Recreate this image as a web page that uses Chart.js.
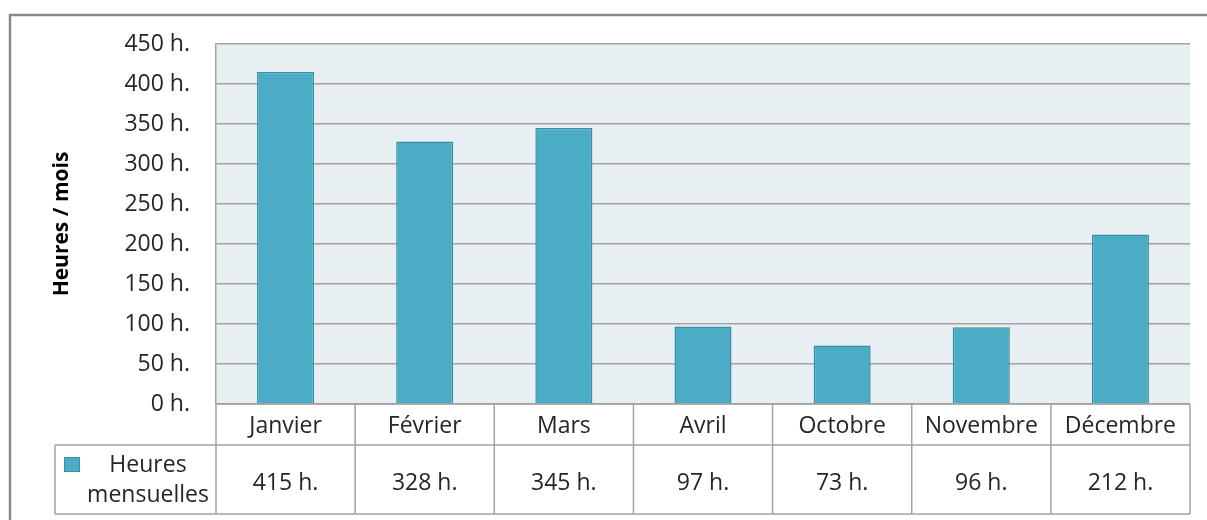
<!DOCTYPE html>
<html>
<head>
<meta charset="utf-8">
<script src="https://cdn.jsdelivr.net/npm/chart.js@4/dist/chart.umd.min.js"></script>
<style>
  html, body { margin: 0; padding: 0; background: #fff; }
  #wrap { width: 1207px; height: 520px; position: relative; }
</style>
</head>
<body>
<div id="wrap"><canvas id="heuresChart"></canvas></div>
<script>
// --- DONNEES ---
const mois = ["Janvier", "Février", "Mars", "Avril", "Octobre", "Novembre", "Décembre"];
const heuresMensuelles = [415, 328, 345, 97, 73, 96, 212];
const serieNom = ["Heures", "mensuelles"];
const yMax = 450;
const yPas = 50;

const FONT = "'Open Sans', sans-serif";
const GRIS = "#a3a3a3";

// fond de la zone de tracé + cadre extérieur
const fondPlugin = {
    id: "fond",
    beforeDraw(chart) {
        const { ctx, chartArea } = chart;
        ctx.save();
        ctx.fillStyle = "#e8eff2";
        ctx.fillRect(chartArea.left, chartArea.top, chartArea.right - chartArea.left, chartArea.bottom - chartArea.top);
        // cadre
        ctx.strokeStyle = "#8a8a8a";
        ctx.lineWidth = 2.5;
        ctx.beginPath();
        ctx.moveTo(10, 530);
        ctx.lineTo(10, 15);
        ctx.lineTo(1215, 15);
        ctx.stroke();
        ctx.restore();
    }
};

// tableau de données sous l'axe
const tablePlugin = {
    id: "tableau",
    afterDraw(chart) {
        const { ctx, chartArea, scales } = chart;
        const x = scales.x;
        const top = chartArea.bottom;
        const mid = top + 41;
        const bas = top + 110;
        const gauche = 55;
        const pas = (chartArea.right - chartArea.left) / mois.length;

        ctx.save();
        ctx.strokeStyle = GRIS;
        ctx.lineWidth = 1.5;
        ctx.beginPath();
        // lignes horizontales
        ctx.moveTo(chartArea.left, top); ctx.lineTo(chartArea.right, top);
        ctx.moveTo(gauche, mid); ctx.lineTo(chartArea.right, mid);
        ctx.moveTo(gauche, bas); ctx.lineTo(chartArea.right, bas);
        // lignes verticales
        ctx.moveTo(gauche, mid); ctx.lineTo(gauche, bas);
        for (let i = 0; i <= mois.length; i++) {
            const xx = chartArea.left + i * pas;
            ctx.moveTo(xx, top); ctx.lineTo(xx, bas);
        }
        ctx.stroke();

        ctx.fillStyle = "#262626";
        ctx.font = "23px " + FONT;
        ctx.textAlign = "center";
        ctx.textBaseline = "middle";
        mois.forEach((m, i) => {
            const cx = x.getPixelForValue(i);
            ctx.fillText(m, cx, (top + mid) / 2 + 2);
            ctx.fillText(heuresMensuelles[i] + " h.", cx, (mid + bas) / 2 + 4);
        });

        // légende
        ctx.fillText(serieNom[0], 148, mid + 20);
        ctx.fillText(serieNom[1], 148, mid + 50);
        ctx.fillStyle = "#4bacc6";
        ctx.strokeStyle = "#3b8da4";
        ctx.lineWidth = 1;
        ctx.fillRect(64, mid + 12, 16, 15);
        ctx.strokeRect(64.5, mid + 12.5, 15, 14);
        ctx.restore();
    }
};

const ctx = document.getElementById("heuresChart").getContext("2d");
new Chart(ctx, {
    type: "bar",
    data: {
        labels: mois,
        datasets: [{
            label: serieNom.join(" "),
            data: heuresMensuelles,
            backgroundColor: "#4bacc6",
            borderColor: "#3b8da4",
            borderWidth: 1.5,
            borderSkipped: "bottom",
            categoryPercentage: 1,
            barPercentage: 0.41
        }]
    },
    options: {
        responsive: true,
        maintainAspectRatio: false,
        animation: false,
        layout: { padding: { top: 44, right: 17, bottom: 6, left: 40 } },
        plugins: {
            legend: { display: false },
            tooltip: { enabled: false }
        },
        scales: {
            x: {
                ticks: { display: false },
                grid: { display: false },
                border: { display: false },
                afterFit(scale) { scale.height = 110; }
            },
            y: {
                min: 0,
                max: yMax,
                ticks: {
                    stepSize: yPas,
                    padding: 26,
                    color: "#262626",
                    font: { family: FONT, size: 23 },
                    callback: v => v + " h."
                },
                grid: { color: GRIS, lineWidth: 1.5, drawTicks: false },
                border: { display: true, color: GRIS, width: 1.5 },
                title: {
                    display: true,
                    text: "Heures / mois",
                    color: "#000",
                    font: { family: FONT, size: 21, weight: "bold" },
                    padding: { top: 9, bottom: 0 }
                },
                afterFit(scale) { scale.width = 176; }
            }
        }
    },
    plugins: [fondPlugin, tablePlugin]
});
</script>
</body>
</html>
